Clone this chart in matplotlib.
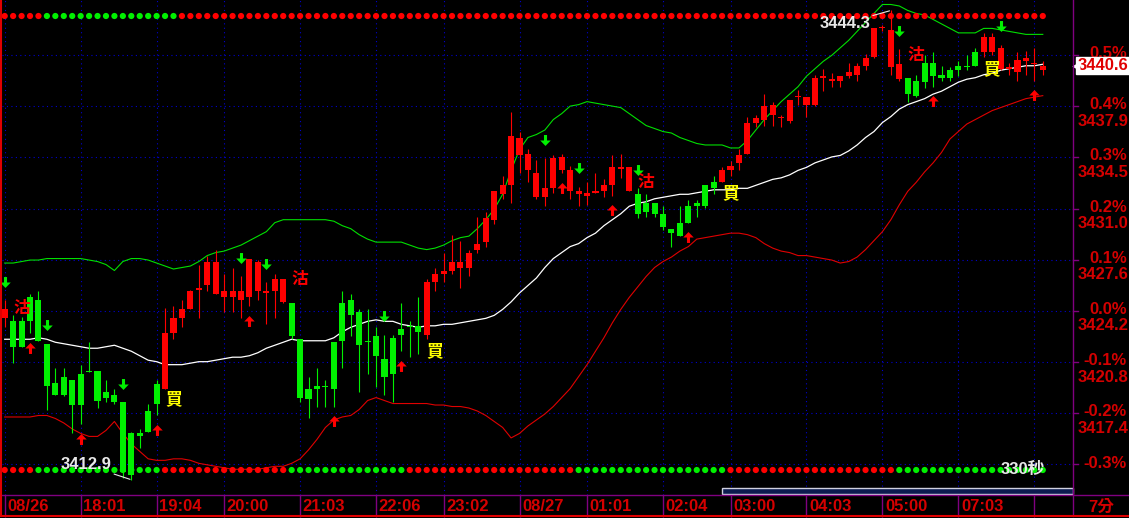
import numpy as np
import matplotlib.pyplot as plt
from matplotlib.path import Path
from matplotlib.lines import Line2D
from matplotlib.patches import Rectangle
from matplotlib.transforms import offset_copy, blended_transform_factory

# previous close, used for the % scale on the right
base = 3424.2

# 7 minute bars, 08/26 evening -> 08/27 morning
open_ = [3423.7, 3423.5, 3423.5, 3425.1, 3424.9, 3422.0, 3419.4, 3419.8, 3419.6, 3420.0,
         3420.2, 3420.2, 3418.8, 3418.6, 3418.1, 3416.0, 3416.0, 3417.5, 3419.3, 3419.0,
         3422.7, 3423.7, 3424.3, 3425.6, 3425.9, 3425.3, 3425.1, 3425.1, 3424.9, 3425.1,
         3425.5, 3425.4, 3425.5, 3424.8, 3424.7, 3422.3, 3419.0, 3419.2, 3419.2, 3422.1,
         3424.7, 3424.9, 3424.1, 3422.2, 3422.5, 3421.0, 3422.4, 3423.0, 3423.2, 3423.2,
         3422.6, 3426.1, 3426.7, 3426.9, 3427.1, 3427.1, 3428.3, 3428.8, 3430.3, 3432.0,
         3432.6, 3434.6, 3433.6, 3431.8, 3431.8, 3432.4, 3433.6, 3432.2, 3432.0, 3431.9,
         3432.1, 3432.2, 3432.6, 3433.7, 3432.2, 3432.0, 3431.4, 3431.4, 3430.7, 3429.7,
         3430.1, 3431.2, 3431.4, 3432.6, 3432.8, 3432.8, 3433.6, 3434.1, 3434.7, 3436.8,
         3437.0, 3437.3, 3437.1, 3436.9, 3438.5, 3438.0, 3438.0, 3439.8, 3439.6, 3439.6,
         3439.9, 3440.0, 3440.6, 3441.2, 3443.1, 3440.5, 3439.7, 3439.8, 3439.6, 3440.8,
         3440.8, 3440.0, 3440.3, 3440.6, 3440.6, 3441.5, 3441.5, 3441.5, 3440.4, 3440.4,
         3440.2, 3440.9, 3440.7, 3440.3]
high = [3424.9, 3423.9, 3423.8, 3425.3, 3425.5, 3422.0, 3420.4, 3420.4, 3419.6, 3420.6,
        3422.1, 3420.2, 3419.6, 3419.0, 3418.1, 3416.1, 3416.3, 3418.0, 3419.6, 3424.4,
        3424.5, 3424.9, 3425.6, 3427.3, 3427.9, 3428.3, 3426.7, 3427.1, 3426.5, 3427.7,
        3427.6, 3426.1, 3426.7, 3426.3, 3424.7, 3422.3, 3419.8, 3420.4, 3419.6, 3422.1,
        3425.5, 3425.3, 3424.3, 3424.3, 3423.1, 3422.6, 3422.6, 3424.7, 3423.5, 3425.1,
        3426.3, 3427.1, 3428.1, 3429.3, 3428.9, 3428.3, 3430.5, 3430.8, 3432.2, 3433.2,
        3437.5, 3436.2, 3435.0, 3434.3, 3434.4, 3434.6, 3434.7, 3433.9, 3432.5, 3432.8,
        3433.4, 3433.0, 3434.6, 3434.7, 3433.8, 3432.4, 3432.0, 3431.4, 3431.2, 3429.7,
        3431.2, 3431.6, 3431.6, 3432.6, 3433.2, 3433.8, 3434.2, 3435.0, 3437.2, 3437.3,
        3438.7, 3438.2, 3437.3, 3438.3, 3439.0, 3438.5, 3440.0, 3440.4, 3440.1, 3439.9,
        3440.8, 3440.8, 3441.4, 3443.1, 3443.3, 3444.3, 3441.7, 3439.8, 3440.0, 3441.3,
        3441.5, 3440.6, 3440.5, 3440.9, 3441.3, 3441.8, 3442.8, 3442.8, 3442.0, 3440.8,
        3441.5, 3441.6, 3441.8, 3440.9]
low = [3423.1, 3420.7, 3421.8, 3422.7, 3422.2, 3417.6, 3418.6, 3418.5, 3416.0, 3416.6,
       3420.1, 3417.7, 3418.1, 3418.0, 3413.0, 3412.9, 3415.0, 3416.1, 3417.2, 3419.0,
       3422.3, 3423.1, 3424.3, 3423.7, 3425.5, 3425.3, 3424.1, 3424.1, 3423.7, 3424.5,
       3424.9, 3423.3, 3423.7, 3424.7, 3422.3, 3418.1, 3417.0, 3417.8, 3417.8, 3417.8,
       3420.4, 3422.5, 3418.8, 3420.0, 3419.1, 3418.6, 3418.1, 3421.5, 3421.1, 3421.3,
       3422.3, 3425.5, 3426.1, 3426.7, 3425.7, 3426.5, 3428.1, 3428.5, 3430.0, 3431.7,
       3431.4, 3433.4, 3432.8, 3431.7, 3431.2, 3432.1, 3433.4, 3431.7, 3431.2, 3431.3,
       3432.1, 3431.8, 3431.9, 3433.1, 3432.2, 3430.4, 3430.5, 3430.5, 3429.6, 3428.5,
       3429.2, 3430.1, 3430.5, 3431.1, 3432.0, 3432.8, 3433.2, 3433.6, 3434.7, 3436.5,
       3436.6, 3436.6, 3436.5, 3436.8, 3438.0, 3437.2, 3437.9, 3438.9, 3439.2, 3439.2,
       3439.8, 3439.6, 3440.3, 3441.1, 3442.9, 3440.0, 3439.6, 3438.2, 3438.5, 3439.1,
       3439.2, 3439.6, 3439.6, 3439.9, 3440.3, 3440.6, 3441.2, 3441.3, 3440.3, 3440.0,
       3439.6, 3440.0, 3439.6, 3440.0]
close = [3424.3, 3421.8, 3421.8, 3423.5, 3422.2, 3419.2, 3418.6, 3418.6, 3417.9, 3417.9,
         3420.1, 3418.2, 3418.4, 3418.1, 3413.4, 3413.2, 3415.8, 3416.1, 3418.0, 3422.7,
         3423.7, 3424.3, 3425.5, 3425.7, 3427.5, 3427.5, 3425.5, 3425.5, 3425.5, 3427.7,
         3427.5, 3425.5, 3426.3, 3426.3, 3422.5, 3418.4, 3418.3, 3419.0, 3419.1, 3419.0,
         3422.2, 3423.9, 3421.9, 3422.1, 3421.2, 3419.8, 3420.0, 3422.6, 3423.1, 3422.8,
         3426.1, 3426.7, 3426.9, 3427.5, 3427.5, 3428.1, 3428.7, 3430.4, 3432.2, 3432.6,
         3435.9, 3435.8, 3434.7, 3433.4, 3432.4, 3434.4, 3434.5, 3433.6, 3432.2, 3432.1,
         3432.2, 3432.6, 3433.8, 3433.8, 3433.8, 3430.7, 3430.8, 3430.7, 3429.8, 3429.4,
         3429.2, 3430.1, 3431.2, 3431.2, 3432.4, 3433.6, 3433.9, 3434.6, 3436.8, 3437.1,
         3437.9, 3438.0, 3437.2, 3438.3, 3438.6, 3438.5, 3439.8, 3439.9, 3439.7, 3439.9,
         3440.2, 3440.6, 3441.1, 3443.1, 3443.2, 3443.0, 3440.7, 3438.7, 3438.6, 3439.5,
         3439.9, 3439.8, 3439.8, 3440.3, 3440.5, 3440.6, 3442.5, 3442.5, 3441.8, 3440.5,
         3441.0, 3441.1, 3440.8, 3440.6]

# bollinger lines
upper = [3427.4, 3427.4, 3427.5, 3427.6, 3427.6, 3427.7, 3427.7, 3427.7, 3427.7, 3427.7,
         3427.6, 3427.5, 3427.3, 3426.9, 3427.5, 3427.7, 3427.7, 3427.6, 3427.4, 3427.2,
         3427.0, 3427.1, 3427.2, 3427.5, 3427.9, 3428.1, 3428.2, 3428.4, 3428.6, 3428.9,
         3429.2, 3429.5, 3430.1, 3430.3, 3430.3, 3430.3, 3430.3, 3430.3, 3430.3, 3430.2,
         3429.9, 3429.7, 3429.3, 3429.0, 3428.8, 3428.8, 3428.8, 3428.8, 3428.6, 3428.4,
         3428.3, 3428.4, 3428.6, 3428.9, 3429.1, 3429.2, 3429.7, 3430.3, 3431.0, 3432.0,
         3433.6, 3435.0, 3435.8, 3436.0, 3436.3, 3437.0, 3437.4, 3437.9, 3438.0, 3438.2,
         3438.1, 3438.0, 3437.9, 3437.8, 3437.4, 3437.0, 3436.6, 3436.4, 3436.2, 3436.1,
         3435.8, 3435.6, 3435.4, 3435.3, 3435.3, 3435.3, 3435.1, 3435.1, 3435.6, 3436.3,
         3437.0, 3437.6, 3438.2, 3438.7, 3439.2, 3439.9, 3440.4, 3440.9, 3441.3, 3441.8,
         3442.3, 3442.9, 3443.5, 3444.1, 3444.7, 3444.7, 3444.6, 3444.3, 3444.1, 3444.0,
         3443.7, 3443.4, 3443.1, 3442.8, 3442.8, 3442.8, 3443.1, 3443.1, 3443.0, 3442.9,
         3442.8, 3442.7, 3442.7, 3442.7]
middle = [3422.3, 3422.3, 3422.3, 3422.3, 3422.4, 3422.3, 3422.1, 3422.0, 3421.9, 3421.8,
          3421.7, 3421.7, 3421.8, 3421.9, 3421.7, 3421.5, 3421.2, 3420.9, 3420.8, 3420.6,
          3420.6, 3420.6, 3420.7, 3420.8, 3420.8, 3420.9, 3421.0, 3421.1, 3421.1, 3421.2,
          3421.4, 3421.7, 3421.9, 3422.1, 3422.3, 3422.2, 3422.2, 3422.2, 3422.2, 3422.4,
          3422.8, 3423.1, 3423.3, 3423.5, 3423.6, 3423.5, 3423.5, 3423.3, 3423.2, 3423.1,
          3423.2, 3423.2, 3423.3, 3423.3, 3423.4, 3423.5, 3423.6, 3423.7, 3423.9, 3424.3,
          3424.8, 3425.4, 3425.9, 3426.4, 3427.1, 3427.7, 3428.1, 3428.5, 3428.7, 3429.1,
          3429.4, 3429.9, 3430.3, 3430.7, 3431.2, 3431.4, 3431.5, 3431.7, 3431.8, 3431.9,
          3432.0, 3432.0, 3432.1, 3432.2, 3432.3, 3432.3, 3432.3, 3432.4, 3432.4, 3432.6,
          3432.8, 3433.0, 3433.1, 3433.3, 3433.6, 3433.8, 3434.1, 3434.3, 3434.5, 3434.6,
          3434.9, 3435.3, 3435.8, 3436.2, 3436.8, 3437.2, 3437.7, 3438.0, 3438.2, 3438.4,
          3438.7, 3438.9, 3439.2, 3439.5, 3439.7, 3439.8, 3440.0, 3440.1, 3440.3, 3440.4,
          3440.5, 3440.6, 3440.6, 3440.7]
lower = [3417.1, 3417.1, 3417.1, 3417.1, 3417.2, 3417.2, 3417.0, 3416.7, 3416.3, 3416.0,
         3415.8, 3415.8, 3416.2, 3416.8, 3416.0, 3415.3, 3414.8, 3414.3, 3414.2, 3414.2,
         3414.3, 3414.3, 3414.2, 3414.0, 3413.9, 3413.8, 3413.7, 3413.6, 3413.6, 3413.6,
         3413.6, 3413.7, 3413.8, 3413.8, 3414.0, 3414.3, 3414.9, 3415.6, 3416.4, 3416.9,
         3417.1, 3417.2, 3417.6, 3418.2, 3418.4, 3418.2, 3418.0, 3418.0, 3418.0, 3418.0,
         3418.0, 3417.9, 3417.9, 3417.8, 3417.8, 3417.7, 3417.5, 3417.2, 3416.8, 3416.4,
         3415.7, 3416.0, 3416.5, 3416.9, 3417.3, 3417.8, 3418.4, 3419.0, 3419.8, 3420.6,
         3421.5, 3422.4, 3423.4, 3424.3, 3425.1, 3425.8, 3426.5, 3427.1, 3427.5, 3427.8,
         3428.2, 3428.5, 3429.0, 3429.1, 3429.2, 3429.3, 3429.4, 3429.4, 3429.3, 3429.1,
         3428.7, 3428.4, 3428.2, 3428.1, 3427.9, 3427.9, 3427.8, 3427.7, 3427.6, 3427.4,
         3427.5, 3427.8, 3428.3, 3428.9, 3429.5, 3430.3, 3431.3, 3432.2, 3432.8, 3433.5,
         3434.1, 3434.8, 3435.7, 3436.2, 3436.7, 3437.0, 3437.3, 3437.6, 3437.8, 3438.0,
         3438.2, 3438.4, 3438.5, 3438.6]

# state dots, R = red, G = green
top_dots = "R" * 5 + "G" * 16 + "R" * 103
bottom_dots = "R" * 4 + "G" * 15 + "R" * 15 + "G" * 14 + "R" * 20 + "G" * 18 + "R" * 20 + "G" * 18

# signals
sell_idx = [2, 35, 76, 108]
sell_px = [3424.4, 3426.3, 3432.8, 3441.3]
buy_idx = [20, 51, 86, 117]
buy_px = [3418.3, 3421.5, 3432.1, 3440.4]
down_idx = [0, 5, 14, 28, 31, 45, 64, 68, 75, 106, 118]
up_idx = [3, 9, 18, 29, 39, 47, 66, 72, 81, 110, 122]

pct_levels = [0.5, 0.4, 0.3, 0.2, 0.1, 0.0, -0.1, -0.2, -0.3]
tick_idx = [0, 9, 18, 26, 35, 44, 52, 61, 69, 78, 86, 95, 104, 113, 122]
tick_lbl = ['08/26', '18:01', '19:04', '20:00', '21:03', '22:06', '23:02', '08/27',
            '01:01', '02:04', '03:00', '04:03', '05:00', '07:03', '']
last_price = 3440.6

open_ = np.array(open_); high = np.array(high); low = np.array(low); close = np.array(close)
n = len(close)
idx = np.arange(n)

RED = '#ff0000'
GREEN = '#00f000'
LBL = '#d40000'
PURPLE = '#800080'
GRID = '#0000d0'
cjk = ['Noto Sans CJK TC', 'DejaVu Sans']

W, H = 1129, 518
fig = plt.figure(figsize=(W / 100, H / 100), dpi=100, facecolor='black')
ax = fig.add_axes([2 / W, 23 / H, 1071 / W, 495 / H], facecolor='black')
ax.set_xlim(-0.32, 126.58)
ax.set_ylim(3411.88, 3445.0)
ax.set_xticks([])
ax.set_yticks([])
for s in ax.spines.values():
    s.set_visible(False)

# grid
for p in pct_levels:
    ax.axhline(base * (1 + p / 100), color=GRID, lw=0.8, ls=(0, (1, 3)), zorder=1)
for t in tick_idx:
    ax.axvline(t, color=GRID, lw=0.8, ls=(0, (1, 3)), zorder=1)

# bands
ax.plot(idx, upper, color='#00e000', lw=0.8, zorder=2)
ax.plot(idx, middle, color='white', lw=0.9, zorder=2)
ax.plot(idx, lower, color='#e00000', lw=0.8, zorder=2)

# candles
up = close >= open_
col = np.where(up, RED, GREEN)
ax.vlines(idx, low, high, colors=col, lw=0.8, zorder=3)
ax.bar(idx, np.maximum(np.abs(close - open_), 0.08), bottom=np.minimum(open_, close),
       width=0.72, color=col, lw=0, zorder=4)

# dots rows
bt = blended_transform_factory(ax.transData, ax.transAxes)
ax.scatter(idx, [1 - 16 / 495] * n, s=20, transform=bt, zorder=5, clip_on=False,
           c=[GREEN if c == 'G' else RED for c in top_dots], lw=0)
ax.scatter(idx, [1 - 470 / 495] * n, s=20, transform=bt, zorder=5, clip_on=False,
           c=[GREEN if c == 'G' else RED for c in bottom_dots], lw=0)

# arrows
down_arrow = Path([(-0.14, 0.5), (0.14, 0.5), (0.14, 0.0), (0.48, 0.0), (0, -0.5),
                   (-0.48, 0.0), (-0.14, 0.0), (-0.14, 0.5)])
up_arrow = Path([(x, -y) for x, y in down_arrow.vertices])
ax.scatter(down_idx, high[down_idx], marker=down_arrow, s=62, color=GREEN, lw=0, zorder=6,
           transform=offset_copy(ax.transData, fig=fig, x=0, y=18.5, units='dots'))
ax.scatter(up_idx, low[up_idx], marker=up_arrow, s=62, color=RED, lw=0, zorder=6,
           transform=offset_copy(ax.transData, fig=fig, x=0, y=-14.5, units='dots'))

for i, p in zip(sell_idx, sell_px):
    ax.text(i, p, '沽', color=RED, fontsize=12, fontweight='bold', family=cjk,
            ha='center', va='center', zorder=7)
for i, p in zip(buy_idx, buy_px):
    ax.text(i, p, '買', color='#ffff00', fontsize=12, fontweight='bold', family=cjk,
            ha='center', va='center', zorder=7)

# high / low marks
lo_i = int(np.argmin(low))
hi_i = int(np.argmax(high))
ax.annotate(f'{low[lo_i]:.1f}', xy=(lo_i, low[lo_i]), xytext=(-14.4, 10.8),
            textcoords='offset points', ha='right', va='center', color='#e8e8e8',
            fontsize=12, fontweight='bold', family='Liberation Sans', zorder=8,
            arrowprops=dict(arrowstyle='-', color='#e8e8e8', lw=0.8, shrinkA=0, shrinkB=1))
ax.annotate(f'{high[hi_i]:.1f}', xy=(hi_i, high[hi_i]), xytext=(-15, -9.4),
            textcoords='offset points', ha='right', va='center', color='#e8e8e8',
            fontsize=12, fontweight='bold', family='Liberation Sans', zorder=8,
            arrowprops=dict(arrowstyle='-', color='#e8e8e8', lw=0.8, shrinkA=0, shrinkB=1))
ax.text(1043 / 1071, 1 - 469 / 495, '330秒', transform=ax.transAxes, ha='right', va='center',
        color='#e8e8e8', fontsize=12, fontweight='bold', family=['Liberation Sans'] + cjk,
        zorder=8)

# right price / percent scale
ytr = ax.get_yaxis_transform()
for p in pct_levels:
    lv = base * (1 + p / 100)
    ax.plot([1, 1 + 5 / 1071], [lv, lv], transform=ytr, color=PURPLE, lw=1, clip_on=False)
    ax.annotate(f'{p:.1f}%', xy=(1, lv), xycoords=ytr, xytext=(38.9, 1),
                textcoords='offset points', ha='right', va='center', color=LBL,
                fontsize=12, fontweight='bold', family='Liberation Sans')
    if p > -0.25:
        # the 0.5% price sits mostly under the current-price tag, as on screen
        ax.annotate(f'{lv:.1f}', xy=(1, lv), xycoords=ytr, xytext=(39.6, -10.8),
                    textcoords='offset points', ha='right', va='center', color=LBL,
                    fontsize=12, fontweight='bold', family='Liberation Sans', zorder=3)
ax.annotate(f'{last_price:.1f}', xy=(1, last_price), xycoords=ytr, xytext=(3, 0),
            textcoords='offset points', ha='left', va='center', color='#e00000',
            fontsize=12, fontweight='bold', family='Liberation Sans', zorder=9,
            bbox=dict(boxstyle='square,pad=0.05', fc='white', ec='white'))
ax.scatter([1 + 3 / 1071], [last_price], marker='<', s=22, color='white', transform=ytr,
           clip_on=False, zorder=9)

# time axis
xtr = ax.get_xaxis_transform()
ax.vlines(tick_idx, -22 / 495, 0, transform=xtr, color=PURPLE, lw=1, clip_on=False)
for t, lb in zip(tick_idx, tick_lbl):
    ax.annotate(lb, xy=(t, 0), xycoords=xtr, xytext=(1.8, -8.6), textcoords='offset points',
                ha='left', va='center', color=LBL, fontsize=12, fontweight='bold',
                family='Liberation Sans')
fig.text(1101 / W, 1 - 507 / H, '7分', ha='center', va='center', color=LBL, fontsize=12,
         fontweight='bold', family=['Liberation Sans'] + cjk)

# frame lines
fig.add_artist(Line2D([0, 1], [23 / H, 23 / H], color=PURPLE, lw=1))
fig.add_artist(Line2D([1073 / W, 1073 / W], [2 / H, 1], color=PURPLE, lw=1))
fig.add_artist(Line2D([0, 1], [2 / H, 2 / H], color='#e00000', lw=1.5))
fig.add_artist(Line2D([1 / W, 1 / W], [2 / H, 1], color='#e00000', lw=1.5))
fig.add_artist(Rectangle((722 / W, 24 / H), 351 / W, 6 / H, transform=fig.transFigure,
                         fc='#0c1c50', ec='#d0d0e0', lw=1))

fig.savefig('out.png', dpi=100, facecolor='black')
